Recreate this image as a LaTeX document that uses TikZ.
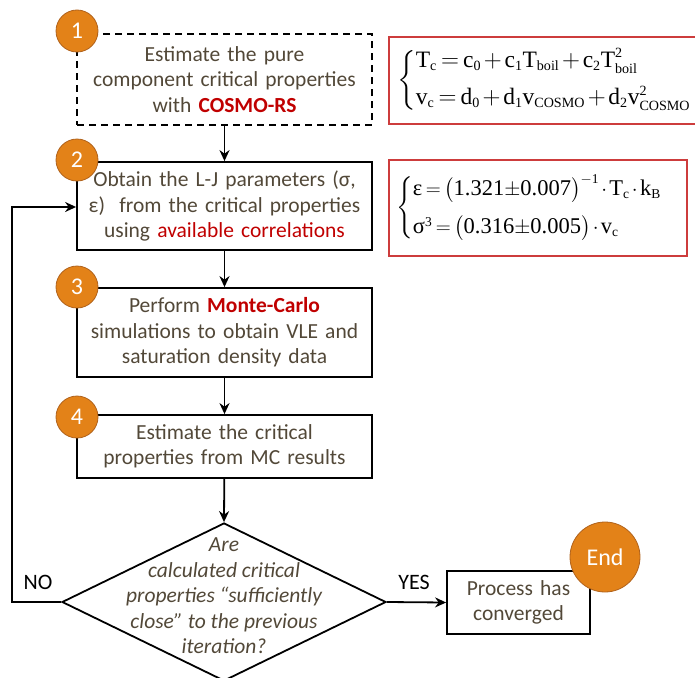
\documentclass[tikz,border=0pt]{standalone}
\usepackage{amsmath}
\usepackage{fontspec}
\setmainfont{Carlito}
\newfontfamily\eqfont{Liberation Serif}
\usetikzlibrary{shapes.geometric,arrows.meta}
\renewcommand{\defaultscriptratio}{0.6}
\definecolor{txt}{RGB}{82,72,56}
\definecolor{hl}{RGB}{192,0,0}
\definecolor{badge}{RGB}{227,130,24}
\definecolor{badgeedge}{RGB}{176,98,28}
\definecolor{eqframe}{RGB}{205,60,60}
\newcommand{\tr}[1]{\text{#1}}
\newcommand{\tightmath}{\thickmuskip=3mu\relax\medmuskip=2mu\relax}
\tikzset{
  stepbox/.style={draw=black, line width=1.8pt, minimum width=295pt, text width=288pt,
    align=center, inner sep=0pt, text=txt, font=\fontsize{21.5}{25.5}\selectfont},
  badgecirc/.style={circle, fill=badge, draw=badgeedge, line width=0.8pt, minimum size=42pt,
    inner sep=0pt, text=white, font=\fontsize{24}{26}\selectfont},
  decision/.style={diamond, draw=black, line width=1.8pt, minimum width=324pt,
    minimum height=158pt, inner sep=0pt},
  dectext/.style={align=center, text=txt, font=\fontsize{21.5}{25.5}\selectfont\itshape},
  eqbox/.style={draw=eqframe, line width=1.4pt},
  eqtext/.style={anchor=west, inner sep=0pt, font=\fontsize{23.5}{27}\selectfont\eqfont},
  flow/.style={line width=1.8pt, -{Stealth[length=11pt,width=10pt]}},
  answer/.style={font=\fontsize{22}{24}\selectfont, text=black}
}
\begin{document}
\begin{tikzpicture}[x=1pt,y=-1pt]
\useasboundingbox (0,0) rectangle (695,677);
\clip (0,0) rectangle (695,677);

% process steps
\node[stepbox, dash pattern=on 7pt off 5pt, minimum height=91pt] (s1) at (224.5,79.5)
  {Estimate the pure\\component critical properties\\with \textcolor{hl}{\bfseries COSMO-RS}};
\node[stepbox, minimum height=88pt] (s2) at (224.5,206)
  {Obtain the L-J parameters (σ,\\ε)\ \ from the critical properties\\using \textcolor{hl}{available correlations}};
\node[stepbox, minimum height=89pt] (s3) at (224.5,332.5)
  {Perform \textcolor{hl}{\bfseries Monte-Carlo}\\simulations to obtain VLE and\\saturation density data};
\node[stepbox, minimum height=63pt] (s4) at (224.5,446.5)
  {Estimate the critical\\properties from MC results};

% convergence test
\node[decision] (dec) at (224,602) {};
\node[dectext] (q) at (224,596)
  {Are\\calculated critical\\properties “sufficiently\\close” to the previous\\iteration?};

\node[stepbox, minimum width=143pt, text width=140pt, minimum height=63pt] (done) at (518.5,602.5)
  {Process has\\converged};

% numbered badges
\node[badgecirc] (b1) at (77,31) {1};
\node[badgecirc] (b2) at (77,160) {2};
\node[badgecirc] (b3) at (77,287) {3};
\node[badgecirc] (b4) at (77,417) {4};
\node[badgecirc, minimum size=70pt] (bend) at (605,557) {End};

% connectors
\draw[flow] (s1) -- (s2);
\draw[flow] (s2) -- (s3);
\draw[flow] (s3) -- (s4);
\draw[flow] (s4) -- (dec.north);
\draw[flow] (dec.east) -- (done.west);
\coordinate (loopb) at (12,602);
\coordinate (loopt) at (12,207);
\draw[flow] (dec.west) -- (loopb) -- (loopt) -- (loopt -| s2.west);

\node[answer] (no) at (38,582) {NO};
\node[answer] (yes) at (414,582) {YES};

% correlation boxes
\draw[eqbox] (389,37) rectangle (705,124);
\node[eqtext] (eq1) at (397,80)
  {$\tightmath\left\{\begin{array}{@{}l@{}}
   \tr{T}_{\tr{c}} = \tr{c}_{\tr{0}} + \tr{c}_{\tr{1}}\tr{T}_{\tr{boil}} + \tr{c}_{\tr{2}}\tr{T}^{\tr{2}}_{\tr{boil}}\\[10pt]
   \tr{v}_{\tr{c}} = \tr{d}_{\tr{0}} + \tr{d}_{\tr{1}}\tr{v}_{\tr{COSMO}} + \tr{d}_{\tr{2}}\tr{v}^{\tr{2}}_{\tr{COSMO}}
   \end{array}\right.$};
\draw[eqbox] (389,160) rectangle (687,256);
\node[eqtext, font=\fontsize{22.5}{26}\selectfont\eqfont] (eq2) at (396,208)
  {$\tightmath\left\{\begin{array}{@{}l@{}}
   \tr{ε} = \bigl(\tr{1.321}{\pm}\tr{0.007}\bigr)^{-\tr{1}} \cdot \tr{T}_{\tr{c}} \cdot \tr{k}_{\tr{B}}\\[12pt]
   \tr{σ}^{\tr{3}} = \bigl(\tr{0.316}{\pm}\tr{0.005}\bigr) \cdot \tr{v}_{\tr{c}}
   \end{array}\right.$};
\end{tikzpicture}
\end{document}
